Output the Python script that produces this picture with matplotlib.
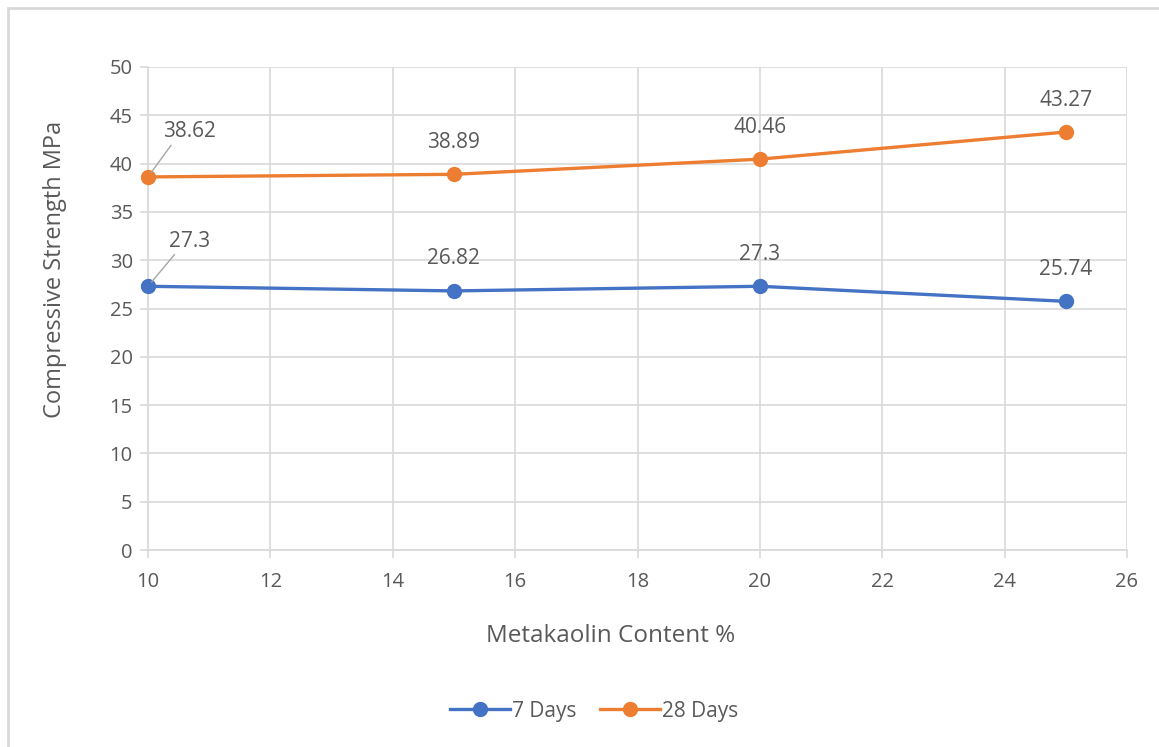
import matplotlib
matplotlib.use("Agg")
import matplotlib.pyplot as plt
from matplotlib.patches import Rectangle

# Data
metakaolin = [10, 15, 20, 25]
days7 = [27.3, 26.82, 27.3, 25.74]
days28 = [38.62, 38.89, 40.46, 43.27]
series_names = ["7 Days", "28 Days"]
x_ticks = [10, 12, 14, 16, 18, 20, 22, 24, 26]
y_ticks = [0, 5, 10, 15, 20, 25, 30, 35, 40, 45, 50]

BLUE = "#4472C4"
ORANGE = "#ED7D31"
TXT = "#595959"
GRID = "#D9D9D9"

plt.rcParams["font.family"] = ["Open Sans", "DejaVu Sans"]

W, H = 1159, 747
fig = plt.figure(figsize=(W / 100, H / 100), dpi=100)

# Chart area border (open on right/bottom)
fig.add_artist(Rectangle((8 / W, -0.05), 1.2, 1 - 8 / H + 0.05,
                         transform=fig.transFigure, fill=False,
                         edgecolor="#D9D9D9", linewidth=2, clip_on=False))

ax = fig.add_axes([148 / W, 1 - 550 / H, (1127 - 148) / W, (550 - 67) / H])

ax.plot(metakaolin, days7, color=BLUE, lw=2.4, marker="o", ms=10,
        label=series_names[0], zorder=3, clip_on=False)
ax.plot(metakaolin, days28, color=ORANGE, lw=2.4, marker="o", ms=10,
        label=series_names[1], zorder=3, clip_on=False)

ax.set_xlim(10, 26)
ax.set_ylim(0, 50)
ax.set_xticks(x_ticks)
ax.set_yticks(y_ticks)
ax.grid(True, color=GRID, lw=1.2)
ax.set_axisbelow(True)
for s in ["top", "right"]:
    ax.spines[s].set_visible(False)
for s in ["left", "bottom"]:
    ax.spines[s].set_color(GRID)
    ax.spines[s].set_linewidth(1.2)
ax.tick_params(axis="both", colors=GRID, length=6, width=1.2,
               labelcolor=TXT, labelsize=14.5)
ax.tick_params(axis="x", pad=10)
ax.tick_params(axis="y", pad=5)

ax.set_xlabel("Metakaolin Content %", fontsize=17.5, color=TXT, va="center")
ax.xaxis.set_label_coords(0.473, -0.178)
ax.set_ylabel("Compressive Strength MPa", fontsize=17, color=TXT, va="center")
ax.yaxis.set_label_coords(-0.095, 0.58)

# Data labels
def label_series(xs, ys):
    for i, (x, y) in enumerate(zip(xs, ys)):
        txt = f"{y:g}"
        if i == 0:
            ax.annotate(txt, (x, y), xytext=(42, 45), textcoords="offset pixels",
                        ha="center", va="center", fontsize=15, color=TXT,
                        arrowprops=dict(arrowstyle="-", color="#A6A6A6", lw=1,
                                        shrinkA=0, shrinkB=4,
                                        relpos=(0.18, 0.0)),
                        zorder=4)
        else:
            ax.annotate(txt, (x, y), xytext=(0, 32), textcoords="offset pixels",
                        ha="center", va="center", fontsize=15, color=TXT)

label_series(metakaolin, days7)
label_series(metakaolin, days28)

leg = fig.legend(loc="center", bbox_to_anchor=(594 / W, 1 - 711 / H), ncol=2,
                 frameon=False, fontsize=15, handlelength=2.9,
                 handletextpad=0.1, columnspacing=1.1, labelcolor=TXT)

fig.savefig("out.png", dpi=100, facecolor="white")
